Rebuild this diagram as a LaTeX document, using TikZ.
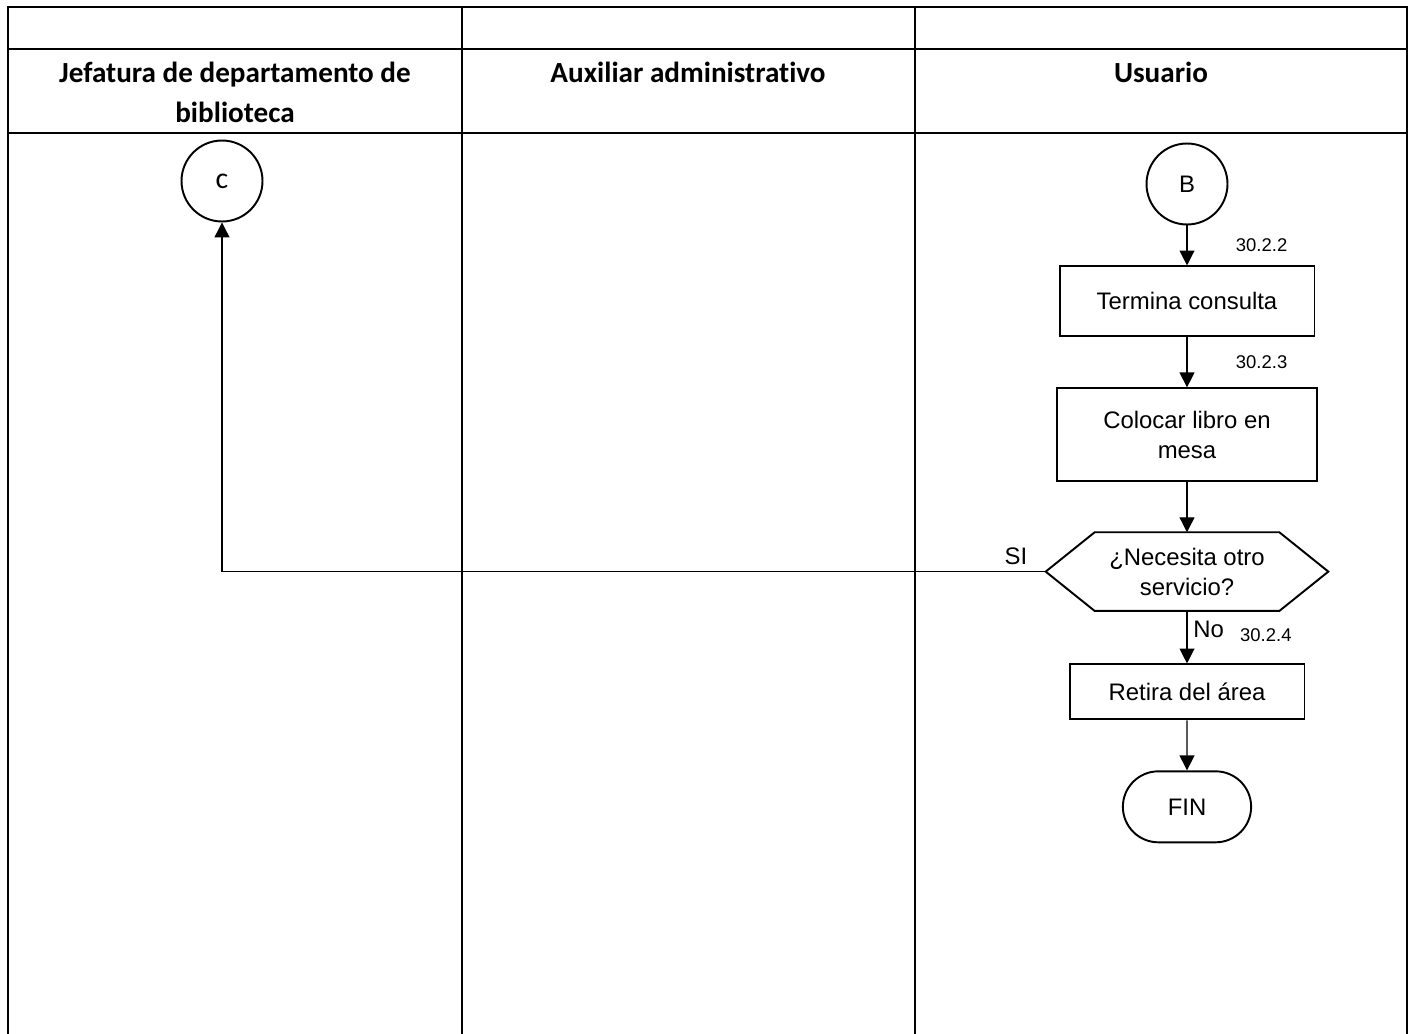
\documentclass[tikz,border=0pt]{standalone}
\usepackage{fontspec}
\setmainfont{Liberation Sans}
\newfontfamily\cabecera[Ligatures=NoCommon]{Carlito}
\usetikzlibrary{arrows.meta,shapes.misc,positioning}

\begin{document}
\begin{tikzpicture}[
    x=0.02cm, y=-0.02cm,
    node distance=1.0cm,
    encabezado/.style={font=\cabecera\bfseries\fontsize{16.6}{22.7}\selectfont,align=center},
    conector/.style={circle,draw,line width=1.1pt,minimum size=1.62cm,inner sep=0pt},
    proceso/.style={rectangle,draw,line width=1.1pt,align=center,font=\fontsize{13.6}{17}\selectfont,inner sep=2pt},
    terminal/.style={rounded rectangle,draw,line width=1.1pt,minimum width=2.8cm,minimum height=1.42cm,font=\fontsize{13.6}{17}\selectfont},
    clave/.style={font=\fontsize{10.5}{12}\selectfont},
    flecha/.style={line width=0.7pt,-{Triangle[length=8.5pt,width=8.5pt]}},
    tabla/.style={line width=1.2pt}
]
    \useasboundingbox (0,0) rectangle (1413,1034);

    % Tabla de carriles
    \draw[tabla] (8,1034) -- (8,7) -- (1407,7) -- (1407,1034);
    \draw[tabla] (8,49) -- (1407,49);
    \draw[tabla] (8,133) -- (1407,133);
    \draw[tabla] (462,7) -- (462,1034);
    \draw[tabla] (915,7) -- (915,1034);

    % Encabezados
    \node[encabezado] (jefatura) at (235,92) {Jefatura de departamento de\\biblioteca};
    \node[encabezado] (auxiliar) at (688,72) {Auxiliar administrativo};
    \node[encabezado] (usuario) at (1161,72) {Usuario};

    % Conectores
    \node[conector,font=\cabecera\fontsize{17}{19}\selectfont] (conC) at (222,181) {c};
    \node[conector,font=\fontsize{13.6}{15}\selectfont] (conB) at (1187,184) {B};

    % Flujo del usuario
    \node[proceso,minimum width=5.1cm,minimum height=1.4cm,below=0.8cm of conB] (termina) {Termina consulta};
    \node[proceso,minimum width=5.2cm,minimum height=1.86cm,below=of termina] (colocar) {Colocar libro en\\mesa};
    \node[minimum width=5.64cm,minimum height=1.56cm,align=center,font=\fontsize{13.6}{17}\selectfont,below=of colocar] (decision) {¿Necesita otro\\servicio?};
    \draw[line width=1.1pt] (decision.west) -- ([xshift=0.98cm]decision.north west) -- ([xshift=-0.98cm]decision.north east)
        -- (decision.east) -- ([xshift=-0.98cm]decision.south east) -- ([xshift=0.98cm]decision.south west) -- cycle;
    \node[proceso,minimum width=4.7cm,minimum height=1.1cm,below=1.05cm of decision] (retira) {Retira del área};
    \node[terminal,below=of retira] (fin) {FIN};

    \draw[flecha] (conB) -- (termina) node[midway,right=0.85cm,clave] (n222) {30.2.2};
    \draw[flecha] (termina) -- (colocar) node[midway,right=0.85cm,clave] (n223) {30.2.3};
    \draw[flecha] (colocar) -- (decision);
    \draw[flecha] (decision) -- (retira) node[pos=0.35,right=0pt,font=\fontsize{13.6}{15}\selectfont] (no) {No};
    \node[clave,anchor=base west,xshift=2pt,yshift=-2.5pt] (n224) at (no.base east) {30.2.4};
    \draw[flecha] (retira) -- (fin);
    \draw[flecha] (decision.west) -| (conC.south) node[pos=0.018,above,font=\fontsize{13.6}{15}\selectfont] (si) {SI};
\end{tikzpicture}
\end{document}
